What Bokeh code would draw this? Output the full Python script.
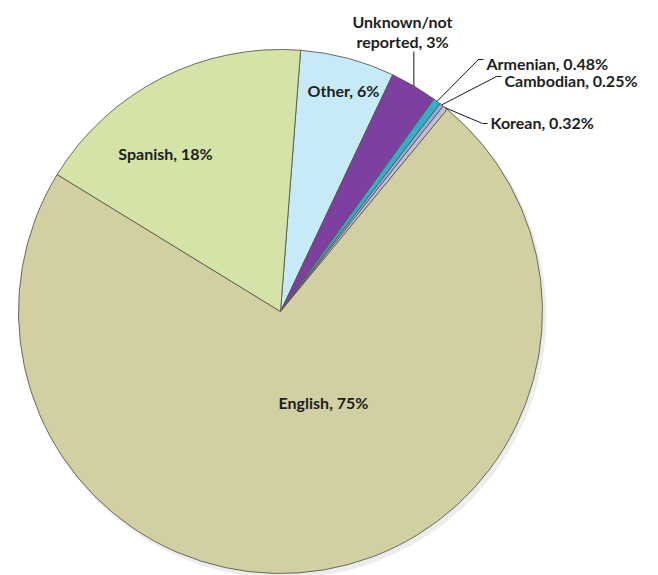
import math
from bokeh.plotting import figure
from bokeh.models import Range1d, ColumnDataSource
from bokeh.core.properties import value
from bokeh.embed import file_html
from bokeh.resources import INLINE

# ---- data (clockwise from the top of the pie) ----
languages = ["Other", "Unknown/not reported", "Armenian", "Cambodian", "Korean", "English", "Spanish"]
percents = [6, 3, 0.48, 0.25, 0.32, 75, 18]
label_texts = ["Other, 6%", "Unknown/not\nreported, 3%", "Armenian, 0.48%", "Cambodian, 0.25%",
               "Korean, 0.32%", "English, 75%", "Spanish, 18%"]
colors = ["#C6EAF7", "#7D40A0", "#2FB0C8", "#9AABDA", "#BEC0DA", "#D2CFA2", "#D4E4A8"]

# ---- layout (pixel positions of the page, y measured from the top) ----
W, H = 658, 575
CX, CY, R = 280, 311, 262
START_DEG = 4.4  # clockwise offset from 12 o'clock where the first slice starts
label_pos = {
    "Other": (343, 90, "center"),
    "Unknown/not reported": (402, 31, "center"),
    "Armenian": (486, 63, "left"),
    "Cambodian": (504, 80, "left"),
    "Korean": (490, 122, "left"),
    "English": (323, 402, "center"),
    "Spanish": (165, 153, "center"),
}

def ty(ypx):
    return H - ypx

total = sum(percents)
starts, ends, mids = [], [], []
cum = 0.0
for v in percents:
    a0 = START_DEG + cum / total * 360.0
    cum += v
    a1 = START_DEG + cum / total * 360.0
    starts.append(math.pi / 2 - math.radians(a0))
    ends.append(math.pi / 2 - math.radians(a1))
    mids.append((a0 + a1) / 2.0)

p = figure(width=W, height=H, x_range=Range1d(0, W), y_range=Range1d(0, H),
           output_backend="svg", toolbar_location=None, min_border=0,
           background_fill_color="white", border_fill_color="white")
p.axis.visible = False
p.grid.visible = False
p.outline_line_color = None

# faint shadow
p.circle(x=[CX + 3], y=[ty(CY) - 4], radius=R + 1, fill_color="#000000", fill_alpha=0.07, line_color=None)

src = ColumnDataSource(dict(start=starts, end=ends, color=colors, name=languages))
p.wedge(x=CX, y=ty(CY), radius=R, start_angle="start", end_angle="end", direction="clock",
        fill_color="color", line_color="#55554a", line_width=1, line_alpha=0.85, source=src)

# edge points for leader lines
def edge_pt(deg, r=R):
    return CX + r * math.sin(math.radians(deg)), CY - r * math.cos(math.radians(deg))

xs, ys = [], []
for name, mid in zip(languages, mids):
    if name == "Unknown/not reported":
        ex, ey = edge_pt(mid)
        xs.append([ex, ex]); ys.append([ty(51), ty(ey)])
    elif name in ("Armenian", "Cambodian", "Korean"):
        lx, lyp, _ = label_pos[name]
        ex, ey = edge_pt(mid)
        dy = 1 if name == "Korean" else -4
        xs.append([lx - 3, lx - 8, ex]); ys.append([ty(lyp + dy), ty(lyp + dy), ty(ey)])
p.multi_line(xs=xs, ys=ys, line_color="#1a1a1a", line_width=1)

for name, txt in zip(languages, label_texts):
    x, ypx, align = label_pos[name]
    p.text(x=[x], y=[ty(ypx)], text=[txt], text_align=align, text_baseline="middle",
           text_font=value("Lato"), text_font_style="bold", text_font_size="16px",
           text_color="#1e1e1e", text_line_height=1.1)

open("out.html", "w").write(file_html(p, INLINE))
